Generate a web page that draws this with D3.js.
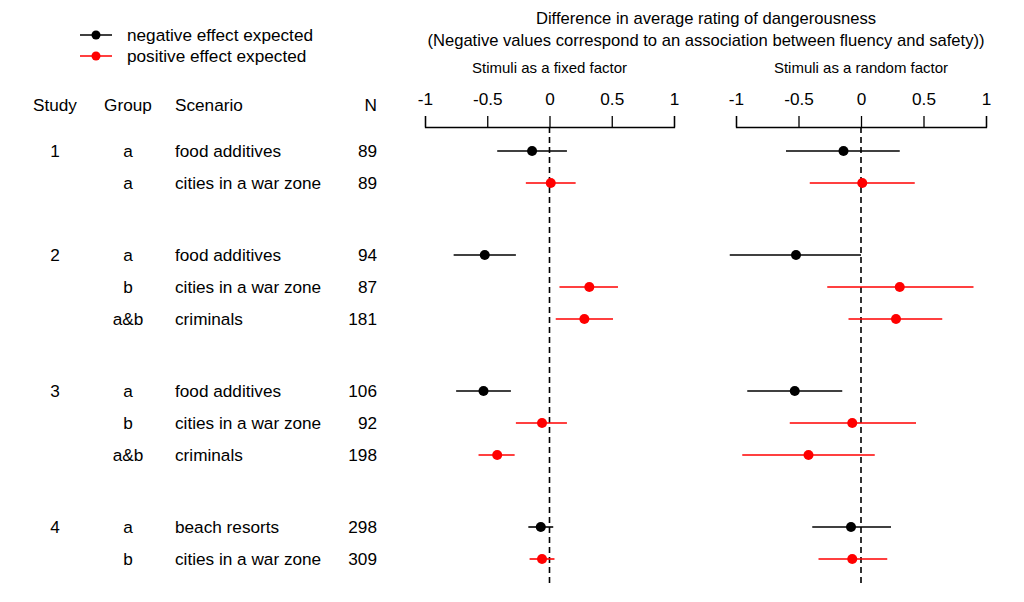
<!DOCTYPE html>
<html>
<head>
<meta charset="utf-8">
<script src="https://cdn.jsdelivr.net/npm/d3@7"></script>
<style>
  html, body { margin: 0; padding: 0; background: #fff; }
  svg { display: block; font-family: "Liberation Sans", Arial, Helvetica, sans-serif; }
</style>
</head>
<body>
<svg id="chart" width="1024" height="602"></svg>
<script>
// ---- data ----
const studies   = [1, 1, 2, 2, 2, 3, 3, 3, 4, 4];
const groups    = ["a", "a", "a", "b", "a&b", "a", "b", "a&b", "a", "b"];
const scenarios = ["food additives", "cities in a war zone", "food additives", "cities in a war zone", "criminals",
                   "food additives", "cities in a war zone", "criminals", "beach resorts", "cities in a war zone"];
const ns        = [89, 89, 94, 87, 181, 106, 92, 198, 298, 309];
const expected  = ["negative", "positive", "negative", "positive", "positive",
                   "negative", "positive", "positive", "negative", "positive"];

const fixedEst  = [-0.14, 0.01, -0.52, 0.32, 0.28, -0.53, -0.06, -0.42, -0.07, -0.06];
const fixedLo   = [-0.42, -0.19, -0.77, 0.08, 0.05, -0.75, -0.27, -0.57, -0.17, -0.16];
const fixedHi   = [0.14, 0.21, -0.27, 0.55, 0.51, -0.31, 0.14, -0.28, 0.03, 0.04];

const randomEst = [-0.14, 0.01, -0.52, 0.31, 0.28, -0.53, -0.07, -0.42, -0.08, -0.07];
const randomLo  = [-0.60, -0.41, -1.05, -0.27, -0.10, -0.91, -0.57, -0.95, -0.39, -0.34];
const randomHi  = [0.31, 0.43, 0.00, 0.90, 0.65, -0.15, 0.44, 0.11, 0.24, 0.21];

const tickValues = [-1, -0.5, 0, 0.5, 1];
const legendLabels = ["negative effect expected", "positive effect expected"];
const legendKeys = ["negative", "positive"];

const titleLines = ["Difference in average rating of dangerousness",
                    "(Negative values correspond to an association between fluency and safety))"];
const panelTitles = ["Stimuli as a fixed factor", "Stimuli as a random factor"];
const headers = ["Study", "Group", "Scenario", "N"];

// ---- layout ----
const svg = d3.select("#chart");
const color = d3.scaleOrdinal().domain(legendKeys).range(["#000000", "#ff0000"]);

// row positions: consecutive rows within a study, extra gap between studies
const rowPos = [];
let p = 0;
studies.forEach((s, i) => {
  if (i > 0) p += (s !== studies[i - 1]) ? 2.25 : 1;
  rowPos.push(p);
});
const y = d3.scaleLinear().domain([0, 1]).range([151, 183]);

const xFixed  = d3.scaleLinear().domain([-1, 1]).range([425, 674]);
const xRandom = d3.scaleLinear().domain([-1, 1]).range([736, 986]);

const axisY = 127;
const fontMain = 17.2;

// titles
svg.append("text").attr("x", 706).attr("y", 24).attr("text-anchor", "middle")
  .attr("font-size", 16.6).text(titleLines[0]);
svg.append("text").attr("x", 706).attr("y", 45.5).attr("text-anchor", "middle")
  .attr("font-size", 16.6).text(titleLines[1]);

// legend
legendKeys.forEach((k, i) => {
  const ly = 35 + i * 21;
  svg.append("line").attr("x1", 80).attr("x2", 112).attr("y1", ly).attr("y2", ly)
    .attr("stroke", color(k)).attr("stroke-width", 1.5);
  svg.append("circle").attr("cx", 96).attr("cy", ly).attr("r", 4.5).attr("fill", color(k));
  svg.append("text").attr("x", 127).attr("y", ly + 6).attr("font-size", fontMain).text(legendLabels[i]);
});

// column headers
const headerY = 110.5;
svg.append("text").attr("x", 55).attr("y", headerY).attr("text-anchor", "middle").attr("font-size", fontMain).text(headers[0]);
svg.append("text").attr("x", 128).attr("y", headerY).attr("text-anchor", "middle").attr("font-size", fontMain).text(headers[1]);
svg.append("text").attr("x", 175).attr("y", headerY).attr("text-anchor", "start").attr("font-size", fontMain).text(headers[2]);
svg.append("text").attr("x", 377).attr("y", headerY).attr("text-anchor", "end").attr("font-size", fontMain).text(headers[3]);

// table rows
const rows = svg.append("g").attr("font-size", fontMain);
studies.forEach((s, i) => {
  const ty = y(rowPos[i]) + 6;
  if (i === 0 || s !== studies[i - 1]) {
    rows.append("text").attr("x", 55).attr("y", ty).attr("text-anchor", "middle").text(s);
  }
  rows.append("text").attr("x", 128).attr("y", ty).attr("text-anchor", "middle").text(groups[i]);
  rows.append("text").attr("x", 175).attr("y", ty).attr("text-anchor", "start").text(scenarios[i]);
  rows.append("text").attr("x", 377).attr("y", ty).attr("text-anchor", "end").text(ns[i]);
});

// panels
const panels = [
  { x: xFixed, est: fixedEst, lo: fixedLo, hi: fixedHi, title: panelTitles[0] },
  { x: xRandom, est: randomEst, lo: randomLo, hi: randomHi, title: panelTitles[1] }
];

panels.forEach(pn => {
  const [r0, r1] = pn.x.range();
  svg.append("text").attr("x", (r0 + r1) / 2).attr("y", 73).attr("text-anchor", "middle")
    .attr("font-size", 15).text(pn.title);

  const axis = d3.axisTop(pn.x).tickValues(tickValues).tickSize(11).tickSizeOuter(11)
    .tickPadding(11).tickFormat(d => String(d));
  const g = svg.append("g").attr("transform", `translate(0,${axisY})`).call(axis);
  g.selectAll("text").attr("font-size", fontMain).attr("font-family", "inherit").attr("fill", "#000");
  g.selectAll("line, path").attr("stroke", "#000").attr("stroke-width", 1.3);

  // zero reference line
  svg.append("line").attr("x1", pn.x(0)).attr("x2", pn.x(0))
    .attr("y1", axisY).attr("y2", 584)
    .attr("stroke", "#000").attr("stroke-width", 1.6).attr("stroke-dasharray", "6,4");

  // CIs
  const ci = svg.append("g");
  pn.est.forEach((e, i) => {
    const cy = y(rowPos[i]);
    ci.append("line").attr("x1", pn.x(pn.lo[i])).attr("x2", pn.x(pn.hi[i]))
      .attr("y1", cy).attr("y2", cy)
      .attr("stroke", color(expected[i])).attr("stroke-width", 1.6);
    ci.append("circle").attr("cx", pn.x(e)).attr("cy", cy).attr("r", 5)
      .attr("fill", color(expected[i]));
  });
});
</script>
</body>
</html>
